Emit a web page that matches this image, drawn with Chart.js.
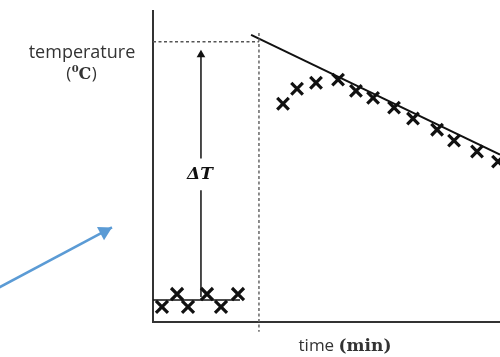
<!DOCTYPE html>
<html>
<head>
<meta charset="utf-8">
<script src="https://cdn.jsdelivr.net/npm/chart.js@4/dist/chart.umd.min.js"></script>
<style>
  html, body { margin: 0; padding: 0; background: #fff; }
  #wrap { position: relative; width: 500px; height: 357px; }
</style>
</head>
<body>
<div id="wrap"><canvas id="calorimetry"></canvas></div>
<script>
// readings before mixing (time in min, temperature in degC)
const beforeTime = [0.58, 1.56, 2.27, 3.50, 4.41, 5.51];
const beforeTemp = [18.58, 19.08, 18.58, 19.08, 18.58, 19.08];

// readings after mixing
const afterTime = [8.43, 9.34, 10.57, 12.0, 13.16, 14.27, 15.63, 16.86, 18.42, 19.52, 21.01, 22.37];
const afterTemp = [26.42, 27.0, 27.23, 27.35, 26.92, 26.65, 26.27, 25.85, 25.42, 25.0, 24.58, 24.19];

// best fit lines
const baseLineTime = [0, 5.64];
const baseLineTemp = [18.85, 18.85];
const coolLineTime = [6.36, 22.5];
const coolLineTemp = [29.08, 24.46];

// extrapolation guides
const mixTime = 6.87;
const peakTemp = 28.81;
const guideTop = 29.15;
const guideBottom = 17.62;

// delta T arrow
const deltaTime = 3.11;
const deltaTemp = [28.31, 24.31, null, 23.08, 18.96];
const deltaLabelTemp = 23.7;

// blue pointer arrow (outside the plot), second point is the tip
const pointerTime = [-10.18, -2.66];
const pointerTemp = [19.27, 21.65];

function pts(xs, ys) {
  return xs.map((x, i) => ({ x: x, y: ys[i] }));
}

const ink = '#111';
const blue = '#5B9BD5';

const labels = {
  id: 'labels',
  afterDraw(chart) {
    const c = chart.ctx;
    const xs = chart.scales.x, ys = chart.scales.y;
    c.save();

    // arrow head of the blue pointer (points outside the area are not drawn by the library)
    const x0 = xs.getPixelForValue(pointerTime[0]), y0 = ys.getPixelForValue(pointerTemp[0]);
    const x1 = xs.getPixelForValue(pointerTime[1]), y1 = ys.getPixelForValue(pointerTemp[1]);
    const a = Math.atan2(y1 - y0, x1 - x0);
    c.fillStyle = blue;
    c.translate(x1, y1);
    c.rotate(a);
    c.beginPath();
    c.moveTo(0, 0);
    c.lineTo(-13, -7.5);
    c.lineTo(-13, 7.5);
    c.closePath();
    c.fill();
    c.setTransform(1, 0, 0, 1, 0, 0);

    c.fillStyle = '#333';
    c.textBaseline = 'middle';
    c.textAlign = 'center';
    c.font = '18px "Open Sans"';
    c.fillText('temperature', 82, 53);

    // (⁰C)
    const p1 = '(', sup = '0', cc = 'C', p2 = ')';
    c.font = '17px "Open Sans"';
    const wp1 = c.measureText(p1).width, wp2 = c.measureText(p2).width;
    c.font = 'bold 10px "DejaVu Serif"';
    const ws = c.measureText(sup).width;
    c.font = 'bold 16px "DejaVu Serif"';
    const wc = c.measureText(cc).width;
    let x = 81 - (wp1 + ws + wc + wp2) / 2;
    c.textAlign = 'left';
    c.font = '17px "Open Sans"';
    c.fillText(p1, x, 74); x += wp1 + 0.5;
    c.font = 'bold 10px "DejaVu Serif"';
    c.fillText(sup, x, 69); x += ws;
    c.font = 'bold 16px "DejaVu Serif"';
    c.fillText(cc, x, 75); x += wc + 0.5;
    c.font = '17px "Open Sans"';
    c.fillText(p2, x, 74);

    // time (min)
    const t1 = 'time ', t2 = '(min)';
    c.font = '17px "Open Sans"';
    const w1 = c.measureText(t1).width;
    c.font = 'bold 17px "DejaVu Serif"';
    const w2 = c.measureText(t2).width;
    x = 345 - (w1 + w2) / 2;
    c.font = '17px "Open Sans"';
    c.fillText(t1, x, 346);
    c.font = 'bold 17px "DejaVu Serif"';
    c.fillText(t2, x + w1, 347);

    // delta T
    c.fillStyle = ink;
    c.textAlign = 'center';
    c.font = 'bold italic 17px "DejaVu Serif"';
    c.fillText('\u0394T', xs.getPixelForValue(deltaTime) - 1, ys.getPixelForValue(deltaLabelTemp));
    c.restore();
  }
};

const ctx = document.getElementById('calorimetry').getContext('2d');
new Chart(ctx, {
  type: 'scatter',
  data: {
    datasets: [
      {
        // horizontal guide at extrapolated temperature
        data: pts([0, mixTime], [peakTemp, peakTemp]),
        showLine: true, borderColor: '#555', borderWidth: 1.5, borderDash: [3, 2.5],
        pointRadius: 0
      },
      {
        // vertical guide at time of mixing
        data: pts([mixTime, mixTime], [guideTop, guideBottom]),
        showLine: true, borderColor: '#666', borderWidth: 1.5, borderDash: [3, 2.5],
        pointRadius: 0, clip: false
      },
      {
        data: pts(baseLineTime, baseLineTemp),
        showLine: true, borderColor: ink, borderWidth: 1.5, pointRadius: 0
      },
      {
        data: pts(coolLineTime, coolLineTemp),
        showLine: true, borderColor: ink, borderWidth: 2, pointRadius: 0
      },
      {
        // delta T arrow, gap for the label
        data: deltaTemp.map(t => ({ x: deltaTime, y: t })),
        showLine: true, spanGaps: false, borderColor: ink, borderWidth: 1.5,
        pointStyle: 'triangle', pointRadius: [5, 0, 0, 0, 0],
        backgroundColor: ink, pointBorderWidth: 0
      },
      {
        data: pts(beforeTime, beforeTemp),
        pointStyle: 'crossRot', pointRadius: 8.5, borderColor: ink, borderWidth: 3.2, clip: false
      },
      {
        data: pts(afterTime, afterTemp),
        pointStyle: 'crossRot', pointRadius: 8.2, borderColor: ink, borderWidth: 3.2, clip: false
      },
      {
        // blue pointer shaft
        data: pts(pointerTime, pointerTemp),
        showLine: true, borderColor: blue, borderWidth: 2.5,
        pointRadius: 0, clip: false
      }
    ]
  },
  options: {
    responsive: true,
    maintainAspectRatio: false,
    animation: false,
    layout: { autoPadding: false, padding: { left: 153, top: 11, right: 0, bottom: 35 } },
    plugins: { legend: { display: false }, tooltip: { enabled: false } },
    scales: {
      x: {
        type: 'linear', min: 0, max: 22.5,
        ticks: { display: false },
        grid: { display: false },
        border: { display: true, color: '#333', width: 2 },
        afterFit: s => { s.height = 0; }
      },
      y: {
        type: 'linear', min: 18, max: 30,
        ticks: { display: false },
        grid: { display: false },
        border: { display: true, color: '#333', width: 2 },
        afterFit: s => { s.width = 0; }
      }
    }
  },
  plugins: [labels]
});
</script>
</body>
</html>
